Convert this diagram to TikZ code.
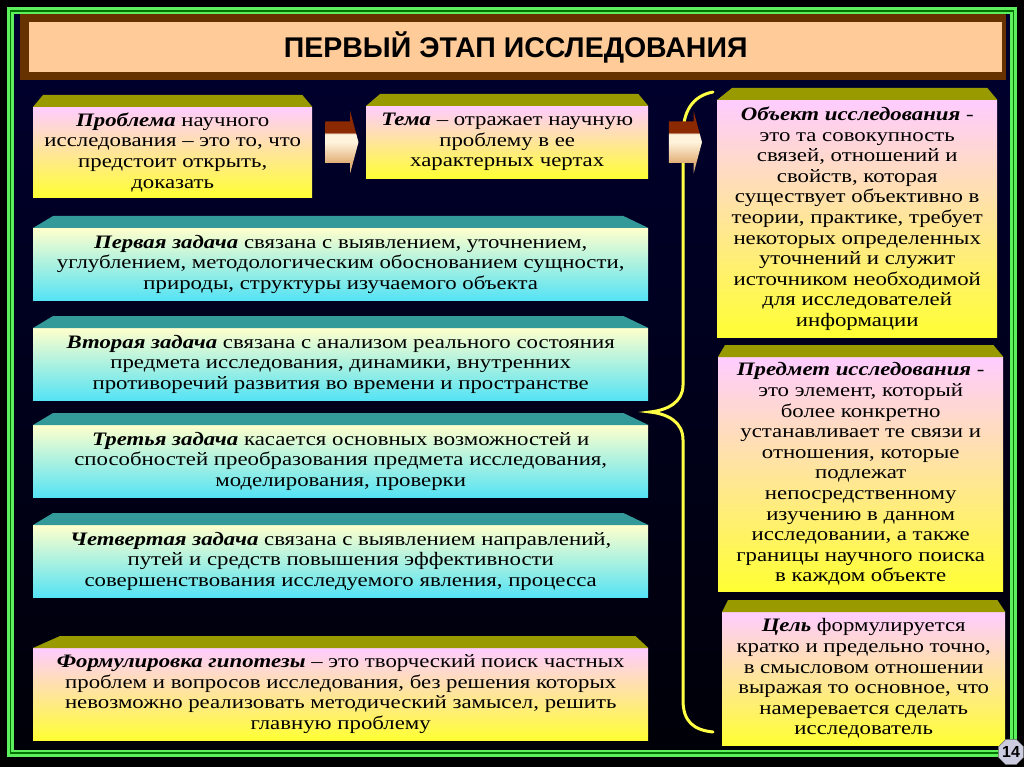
\documentclass[tikz,border=0pt]{standalone}
\usepackage{fontspec}
\setmainfont{Liberation Serif}[FakeStretch=1.2]
\newfontfamily\titlefont{Liberation Sans}
\usepackage{tikz}
\usetikzlibrary{positioning,calc,shapes.arrows,shapes.geometric}
\definecolor{navytop}{HTML}{000030}
\definecolor{navymid}{HTML}{000074}
\definecolor{navybot}{HTML}{000008}
\definecolor{framegreen}{HTML}{5CF05C}
\definecolor{titlebrown}{HTML}{663300}
\definecolor{titlepeach}{HTML}{FFCC99}
\definecolor{boxpink}{HTML}{FFCCFF}
\definecolor{boxyellow}{HTML}{FFFF33}
\definecolor{boxcream}{HTML}{FFFFCC}
\definecolor{boxcyan}{HTML}{55E3F5}
\definecolor{bevelolive}{HTML}{999900}
\definecolor{bevelteal}{HTML}{339999}
\definecolor{bracey}{HTML}{FFFF44}
\definecolor{arrbrown}{HTML}{8B2A00}
\definecolor{arrcream}{HTML}{FFF3DC}
\definecolor{arrtan}{HTML}{E2B07A}
\definecolor{pagegrey}{HTML}{CCCCE0}
\pgfdeclareverticalshading{arrowshade}{100bp}{color(0bp)=(arrtan); color(34bp)=(arrtan);
  color(50bp)=(arrcream); color(57bp)=(arrcream); color(57.5bp)=(arrbrown); color(100bp)=(arrbrown)}
\tikzset{
  txt/.style     ={font=\fontsize{19}{20.6}\selectfont, text=black, align=center,
                   inner sep=0pt, anchor=north west},
  pbox/.style    ={txt, top color=boxpink, bottom color=boxyellow},
  tbox/.style    ={txt, top color=boxcream, bottom color=boxcyan},
  olivecap/.style={fill=bevelolive},
  tealcap/.style ={fill=bevelteal},
  titlebar/.style={fill=titlepeach, inner sep=0pt, anchor=north west,
                   font=\titlefont\bfseries\fontsize{28.5}{30}\selectfont},
  frameline/.style={draw=framegreen, line width=7pt},
  framegap/.style ={draw=black!55!green, line width=1.2pt},
  blockarr/.style={single arrow, shading=arrowshade, inner xsep=0pt, inner ysep=20.5pt,
                   minimum height=33pt, single arrow head extend=10.5pt,
                   single arrow tip angle=150, single arrow head indent=0pt},
  bracel/.style  ={draw=bracey, line width=3pt, line cap=round},
  pagenum/.style ={regular polygon, regular polygon sides=8, minimum size=26pt, inner sep=0pt,
                   fill=pagegrey, draw=black!60, font=\titlefont\bfseries\fontsize{16}{16}\selectfont},
}
\newcommand{\term}[1]{\textbf{\textit{#1}}}
\newcommand{\capon}[4]{\fill[#2] (#1.north west) -- ([shift={(#3,-12)}]#1.north west)
  -- ([shift={(-#4,-12)}]#1.north east) -- (#1.north east) -- cycle;}

\begin{document}
\begin{tikzpicture}[x=1pt,y=-1pt]
  \useasboundingbox (0,0) rectangle (1024,767);
  \fill[black] (0,0) rectangle (1024,767);
  \shade[top color=navytop, middle color=navymid, bottom color=navybot] (10,11) rectangle (1013,753);
  \draw[frameline] (10.5,11) rectangle (1013.5,753);
  \draw[framegap]  (10.5,11) rectangle (1013.5,753);
  \fill[titlebrown] (20,14) rectangle (1006,80);
  \node[titlebar, minimum width=973pt, minimum height=50pt] (title) at (29,22) {ПЕРВЫЙ ЭТАП ИССЛЕДОВАНИЯ};

  \coordinate (bracetop) at (713,92);
  \coordinate (bracetip) at (650,412);
  \coordinate (bracebot) at (713,732);
  \draw[bracel] (bracetop) .. controls (692,96) and (683,112) .. (683,135) -- (683,385)
    .. controls (683,402) and (668,410) .. (bracetip) .. controls (668,414) and (683,422) .. (683,440)
    -- (683,700) .. controls (683,722) and (694,730) .. (bracebot);

  \node[pbox, minimum width=279pt, minimum height=90pt] (problem) at (33,107) {\term{Проблема} научного\\исследования – это то, что\\предстоит открыть,\\доказать};
  \node[pbox, minimum width=282pt, minimum height=72pt] (theme) at (366,106) {\term{Тема} – отражает научную\\проблему в ее\\характерных чертах};
  \node[tbox, minimum width=615pt, minimum height=72pt] (task1) at (33,228) {\term{Первая задача} связана с выявлением, уточнением,\\углублением, методологическим обоснованием сущности,\\природы, структуры изучаемого объекта};
  \node[tbox, minimum width=615pt, minimum height=72pt] (task2) at (33,328) {\term{Вторая задача} связана с анализом реального состояния\\предмета исследования, динамики, внутренних\\противоречий развития во времени и пространстве};
  \node[tbox, minimum width=615pt, minimum height=72pt] (task3) at (33,425) {\term{Третья задача} касается основных возможностей и\\способностей преобразования предмета исследования,\\моделирования, проверки};
  \node[tbox, minimum width=615pt, minimum height=72pt] (task4) at (33,525) {\term{Четвертая задача} связана с выявлением направлений,\\путей и средств повышения эффективности\\совершенствования исследуемого явления, процесса};
  \node[pbox, minimum width=615pt, minimum height=92pt] (hypo) at (33,648) {\term{Формулировка гипотезы} – это творческий поиск частных\\проблем и вопросов исследования, без решения которых\\невозможно реализовать методический замысел, решить\\главную проблему};
  \node[pbox, minimum width=280pt, minimum height=237pt] (object) at (717,100) {\term{Объект исследования} -\\это та совокупность\\связей, отношений и\\свойств, которая\\существует объективно в\\теории, практике, требует\\некоторых определенных\\уточнений и служит\\источником необходимой\\для исследователей\\информации};
  \node[pbox, minimum width=285pt, minimum height=234pt] (subject) at (718,357) {\term{Предмет исследования} -\\это элемент, который\\более конкретно\\устанавливает те связи и\\отношения, которые\\подлежат\\непосредственному\\изучению в данном\\исследовании, а также\\границы научного поиска\\в каждом объекте};
  \node[pbox, minimum width=283pt, minimum height=133pt] (goal) at (722,612) {\term{Цель} формулируется\\кратко и предельно точно,\\в смысловом отношении\\выражая то основное, что\\намеревается сделать\\исследователь};

  \capon{problem}{olivecap}{10}{10}
  \capon{theme}{olivecap}{14}{10}
  \capon{task1}{tealcap}{20}{25}
  \capon{task2}{tealcap}{20}{25}
  \capon{task3}{tealcap}{20}{25}
  \capon{task4}{tealcap}{20}{25}
  \capon{hypo}{olivecap}{27}{13}
  \capon{object}{olivecap}{15}{10}
  \capon{subject}{olivecap}{7}{10}
  \capon{goal}{olivecap}{6}{8}

  \node[blockarr] (arr1) at ($(problem.east |- theme.west)!0.5!(theme.west)$) {};
  \node[blockarr] (arr2) at ($(theme.east)!0.5!(object.west |- theme.east)$) {};
  \node[pagenum] (page) at (1011,752) {14};
\end{tikzpicture}
\end{document}
